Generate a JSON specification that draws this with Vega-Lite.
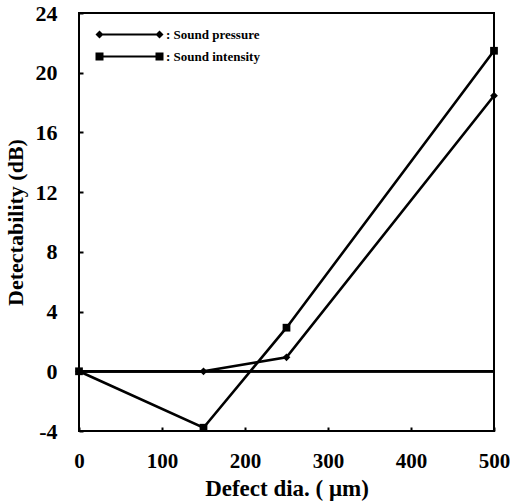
{
  "$schema": "https://vega.github.io/schema/vega-lite/v6.json",
  "autosize": "none",
  "width": 415,
  "height": 418,
  "padding": {"left": 79, "top": 13, "right": 16, "bottom": 73},
  "background": "white",
  "config": {
    "view": {"stroke": "black", "strokeWidth": 2},
    "font": "Liberation Serif",
    "axis": {
      "grid": false,
      "domain": false,
      "zindex": 1,
      "tickColor": "black",
      "tickWidth": 2,
      "labelFont": "Liberation Serif",
      "labelFontWeight": "bold",
      "labelColor": "black",
      "titleFont": "Liberation Serif",
      "titleFontWeight": "bold",
      "titleColor": "black"
    }
  },
  "data": {
    "values": [
      {"series": "Sound pressure", "d": 0, "v": 0},
      {"series": "Sound pressure", "d": 150, "v": 0},
      {"series": "Sound pressure", "d": 250, "v": 0.94},
      {"series": "Sound pressure", "d": 500, "v": 18.46},
      {"series": "Sound intensity", "d": 0, "v": 0},
      {"series": "Sound intensity", "d": 150, "v": -3.78},
      {"series": "Sound intensity", "d": 250, "v": 2.92},
      {"series": "Sound intensity", "d": 500, "v": 21.47}
    ]
  },
  "resolve": {"scale": {"shape": "independent"}},
  "layer": [
    {
      "mark": {"type": "rule", "color": "black", "strokeWidth": 2},
      "encoding": {"y": {"datum": 0, "type": "quantitative", "scale": {"domain": [-4, 24]}}}
    },
    {
      "mark": {"type": "line", "color": "black", "strokeWidth": 2.6},
      "encoding": {
        "x": {"field": "d", "type": "quantitative", "scale": {"domain": [0, 500], "nice": false}, "title": "Defect dia. ( μm)",
              "axis": {"values": [0, 100, 200, 300, 400, 500], "tickSize": -4, "labelPadding": 23, "labelFlush": false, "labelFontSize": 21, "titleFontSize": 23, "titlePadding": 6}},
        "y": {"field": "v", "type": "quantitative", "scale": {"domain": [-4, 24], "nice": false}, "title": "Detectability (dB)",
              "axis": {"values": [-4, 0, 4, 8, 12, 16, 20, 24], "tickSize": -4, "labelPadding": 26, "labelFlush": false, "labelExpr": "'' + datum.value", "labelFontSize": 22, "titleFontSize": 22, "titlePadding": 8}},
        "detail": {"field": "series"}
      }
    },
    {
      "mark": {"type": "point", "filled": true, "color": "black", "opacity": 1, "size": 60},
      "encoding": {
        "x": {"field": "d", "type": "quantitative"},
        "y": {"field": "v", "type": "quantitative"},
        "shape": {
          "field": "series",
          "type": "nominal",
          "scale": {"domain": ["Sound pressure", "Sound intensity"], "range": ["diamond", "square"]},
          "legend": null
        }
      }
    },
    {
      "mark": {"type": "point", "filled": true, "color": "black", "opacity": 0, "size": 0},
      "encoding": {
        "x": {"field": "d", "type": "quantitative"},
        "y": {"field": "v", "type": "quantitative"},
        "shape": {
          "field": "series",
          "type": "nominal",
          "scale": {"domain": ["Sound pressure", "Sound intensity"], "range": [
            "M-6,-0.2h12v0.4h-12ZM-6,-0.8L-5.2,0L-6,0.8L-6.8,0ZM6,-0.8L6.8,0L6,0.8L5.2,0Z",
            "M-6,-0.2h12v0.4h-12ZM-6.8,-0.8h1.6v1.6h-1.6ZM5.2,-0.8h1.6v1.6h-1.6Z"
          ]},
          "legend": {
            "title": null,
            "orient": "none",
            "legendX": 44,
            "legendY": 15,
            "padding": 0,
            "symbolSize": 100,
            "rowPadding": 8,
            "labelOffset": 30,
            "labelFont": "Liberation Serif",
            "labelFontWeight": "bold",
            "labelFontSize": 13,
            "labelColor": "black",
            "labelExpr": "': ' + datum.label",
            "symbolStrokeWidth": 1,
            "symbolFillColor": "black",
            "symbolStrokeColor": "black",
            "symbolOpacity": 1
          }
        }
      }
    }
  ]
}
